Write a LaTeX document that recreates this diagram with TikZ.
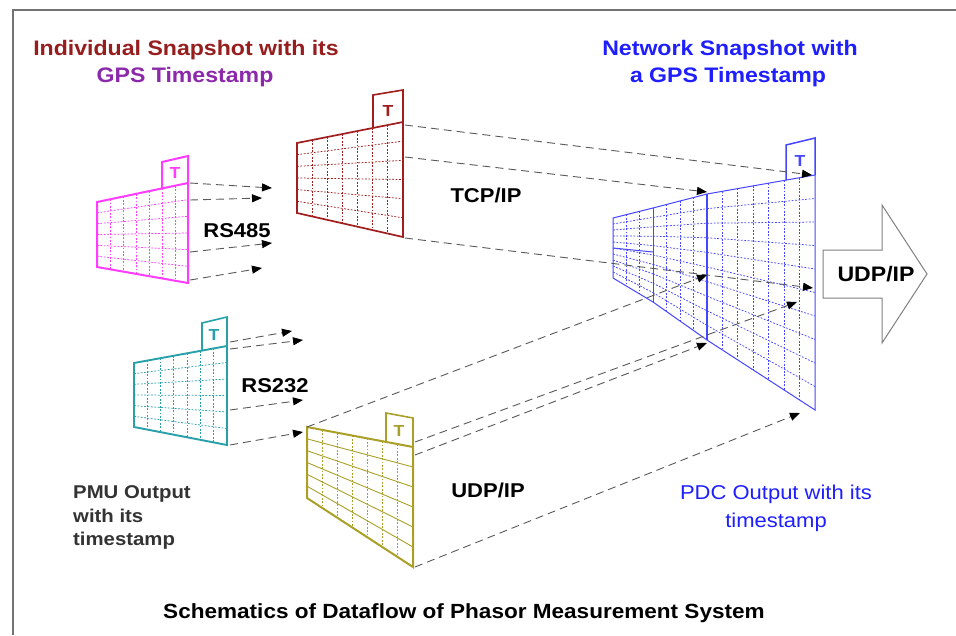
\documentclass[tikz,border=0pt]{standalone}
\usepackage{fontspec}
\setmainfont{Liberation Sans}[FakeStretch=1.1]
\usetikzlibrary{arrows.meta,calc}
\definecolor{cmag}{RGB}{255,60,255}
\definecolor{cmar}{RGB}{160,30,30}
\definecolor{cteal}{RGB}{40,160,170}
\definecolor{colive}{RGB}{170,160,40}
\definecolor{cblue}{RGB}{70,70,255}
\definecolor{ctitlered}{RGB}{150,30,30}
\definecolor{cpurple}{RGB}{140,40,170}
\definecolor{ctblue}{RGB}{30,30,255}
\newcommand{\quadgrid}[5]{%
  \pgfmathtruncatemacro{\qgnc}{#2-1}%
  \pgfmathtruncatemacro{\qgnr}{#3-1}%
  \foreach \qi in {1,...,\qgnc}{\draw[#4] ($(#1TL)!{\qi/#2}!(#1TR)$) -- ($(#1BL)!{\qi/#2}!(#1BR)$);}%
  \foreach \qj in {1,...,\qgnr}{\draw[#5] ($(#1TL)!{\qj/#3}!(#1BL)$) -- ($(#1TR)!{\qj/#3}!(#1BR)$);}%
}
\tikzset{
  flow/.style={draw=black!65, dash pattern=on 8pt off 5pt, line width=0.9pt,
    -{Triangle[length=10pt,width=8pt,color=black]}},
  gdot/.style={#1, line width=0.75pt, dash pattern=on 1.8pt off 1.6pt},
  gsol/.style={#1, line width=0.9pt},
  lbl/.style={font=\bfseries\fontsize{20}{24}\selectfont, inner sep=0pt, anchor=base},
  tletter/.style={font=\bfseries\fontsize{16}{18}\selectfont, inner sep=0pt},
}
\begin{document}
\begin{tikzpicture}[x=1pt,y=-1pt]
\useasboundingbox (0,0) rectangle (956,635);
\fill[white] (0,0) rectangle (956,635);
\draw[black!55, line width=1.6pt] (13,635) -- (13,10) -- (956,10);

% ---------- coordinates of panels ----------
\coordinate (mTL) at (97,202);  \coordinate (mTR) at (188,183);
\coordinate (mBL) at (97,267);  \coordinate (mBR) at (188,283);
\coordinate (rTL) at (297,143); \coordinate (rTR) at (403,122);
\coordinate (rBL) at (297,213); \coordinate (rBR) at (403,237);
\coordinate (cTL) at (134,363); \coordinate (cTR) at (227,346);
\coordinate (cBL) at (134,427); \coordinate (cBR) at (227,445);
\coordinate (oTL) at (307,427); \coordinate (oTR) at (413,447);
\coordinate (oBL) at (307,498); \coordinate (oBR) at (413,567);
\coordinate (fTL) at (707,194); \coordinate (fTR) at (815,175);
\coordinate (fBL) at (707,340); \coordinate (fBR) at (815,410);
\coordinate (kTL) at (653,208); \coordinate (kTR) at (707,194);
\coordinate (kBL) at (653,302); \coordinate (kBR) at (707,340);
\coordinate (bTL) at (613,218); \coordinate (bTR) at (653,208);
\coordinate (bBL) at (613,278); \coordinate (bBR) at (653,302);

% ---------- magenta PMU panel ----------
\quadgrid{m}{7}{6}{gdot=cmag}{gdot=cmag}
\draw[cmag, line width=2pt, line join=miter] (mTL) -- (mTR) -- (mBR) -- (mBL) -- cycle;
\draw[cmag, line width=2pt] (162,188) -- (162,162) -- (188,156) -- (mTR);
\node[tletter, text=cmag] (tm) at (175,173) {T};

% ---------- maroon panel ----------
\quadgrid{r}{7}{6}{gdot=cmar}{gdot=cmar}
\draw[cmar, line width=1.7pt] (rTL) -- (rTR) -- (rBR) -- (rBL) -- cycle;
\draw[cmar, line width=1.6pt] (373,128) -- (373,95) -- (403,90) -- (rTR);
\node[tletter, text=cmar] (tr) at (388,111) {T};

% ---------- teal panel ----------
\quadgrid{c}{7}{6}{gdot=cteal}{gdot=cteal}
\draw[cteal, line width=1.9pt] (cTL) -- (cTR) -- (cBR) -- (cBL) -- cycle;
\draw[cteal, line width=1.6pt] (202,351) -- (202,323) -- (227,317) -- (cTR);
\node[tletter, text=cteal] (tc) at (214,335) {T};

% ---------- olive panel ----------
\quadgrid{o}{7}{6}{gdot=colive}{gsol=colive}
\draw[colive, line width=2pt] (oTL) -- (oTR) -- (oBR) -- (oBL) -- cycle;
\draw[colive, line width=1.6pt] (386,442) -- (386,413) -- (413,418) -- (oTR);
\node[tletter, text=colive] (to) at (399,431) {T};

% ---------- blue PDC panels ----------
\quadgrid{b}{3}{10}{gdot=cblue}{gdot=cblue}
\quadgrid{k}{4}{10}{gdot=cblue}{gdot=cblue}
\quadgrid{f}{7}{10}{gdot=cblue}{gdot=cblue}
\draw[cblue, line width=1pt] (bTL) -- (bTR) -- (kTR) -- (fTR) -- (fBR) -- (kBR) -- (bBR) -- (bBL) -- cycle;
\draw[cblue, line width=1pt] (bTR) -- (bBR);
\draw[cblue, line width=1.3pt] (kTR) -- (kBR);
\draw[cblue, line width=1pt] (613,248) -- (653,252);
\draw[cblue, line width=1.5pt] (786,180) -- (786,145) -- (815,138) -- (fTR);
\node[tletter, text=cblue] (tb) at (800,161) {T};

% ---------- connector end points ----------
\coordinate (ms1) at (190,183); \coordinate (me1) at (272,188);
\coordinate (ms2) at (190,200); \coordinate (me2) at (262,198);
\coordinate (ms3) at (190,252); \coordinate (me3) at (272,243);
\coordinate (ms4) at (190,280); \coordinate (me4) at (262,268);
\coordinate (rs1) at (405,125); \coordinate (re1) at (812,175);
\coordinate (rs2) at (405,157); \coordinate (re2) at (707,192);
\coordinate (rs3) at (405,238); \coordinate (re3) at (813,288);
\coordinate (cs1) at (230,342); \coordinate (ce1) at (292,331);
\coordinate (cs2) at (230,349); \coordinate (ce2) at (303,340);
\coordinate (cs3) at (230,410); \coordinate (ce3) at (303,400);
\coordinate (cs4) at (230,445); \coordinate (ce4) at (303,432);
\coordinate (os1) at (307,427); \coordinate (oe1) at (707,275);
\coordinate (os2) at (415,442); \coordinate (oe2) at (797,302);
\coordinate (os3) at (415,455); \coordinate (oe3) at (707,343);
\coordinate (os4) at (415,567); \coordinate (oe4) at (800,413);

\foreach \s/\e in {ms1/me1,ms2/me2,ms3/me3,ms4/me4,rs1/re1,rs2/re2,rs3/re3,
                   cs1/ce1,cs2/ce2,cs3/ce3,cs4/ce4,os1/oe1,os2/oe2,os3/oe3,os4/oe4}
  {\draw[flow] (\s) -- (\e);}

% ---------- big UDP/IP arrow ----------
\draw[black!50, line width=1pt, fill=white] (823,250) -- (882,250) -- (882,205) -- (927,274)
  -- (882,343) -- (882,298) -- (823,298) -- cycle;
\node[lbl, font=\bfseries\fontsize{21}{24}\selectfont] (udpbig) at (876,281) {UDP/IP};

% ---------- texts ----------
\node[lbl, font=\bfseries\fontsize{21}{24}\selectfont, text=ctitlered] (ind1) at (186,55) {Individual Snapshot with its};
\node[lbl, font=\bfseries\fontsize{21}{24}\selectfont, text=cpurple] (ind2) at (185,82) {GPS Timestamp};
\node[lbl, font=\bfseries\fontsize{21}{24}\selectfont, text=ctblue] (net1) at (730,55) {Network Snapshot with};
\node[lbl, font=\bfseries\fontsize{21}{24}\selectfont, text=ctblue] (net2) at (728,82) {a GPS Timestamp};
\node[lbl] (tcp) at (486,202) {TCP/IP};
\node[lbl] (rs485) at (237,237) {RS485};
\node[lbl] (rs232) at (275,392) {RS232};
\node[lbl] (udp) at (488,497) {UDP/IP};
\node[lbl, anchor=base west, text=black!80, font=\bfseries\fontsize{18.5}{22}\selectfont] (pmu1) at (73,498) {PMU Output};
\node[lbl, anchor=base west, text=black!80, font=\bfseries\fontsize{18.5}{22}\selectfont] (pmu2) at (73,522) {with its};
\node[lbl, anchor=base west, text=black!80, font=\bfseries\fontsize{18.5}{22}\selectfont] (pmu3) at (73,545) {timestamp};
\node[lbl, text=ctblue, font=\fontsize{20}{24}\selectfont] (pdc1) at (776,499) {PDC Output with its};
\node[lbl, text=ctblue, font=\fontsize{20}{24}\selectfont] (pdc2) at (776,527) {timestamp};
\node[lbl, font=\bfseries\fontsize{20.5}{24}\selectfont] (title) at (464,618) {Schematics of Dataflow of Phasor Measurement System};
\end{tikzpicture}
\end{document}
